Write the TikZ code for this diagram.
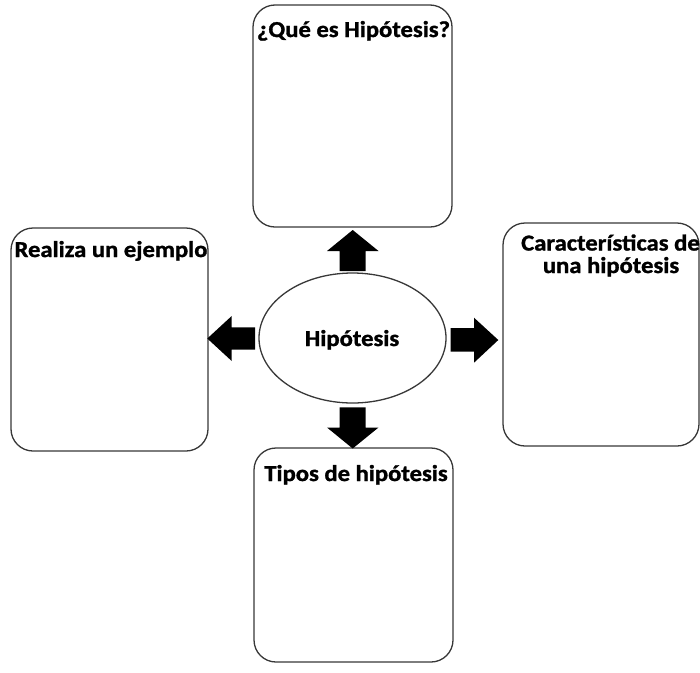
\documentclass[tikz,border=0pt]{standalone}
\usepackage{fontspec}
\setmainfont{Carlito}[BoldFeatures={FakeBold=1.2}]
\usepackage{graphicx}
\usetikzlibrary{shapes.geometric}
\newcommand\sx[1]{\scalebox{1.08}[1]{#1}}
\tikzset{
  box/.style={draw=black!78, line width=1.3pt, rounded corners=22pt, rectangle, inner sep=0pt},
  oval/.style={draw=black!78, line width=1.3pt, ellipse, inner sep=0pt, minimum width=187pt, minimum height=130pt},
  lbl/.style={anchor=base, inner sep=0pt, font=\fontsize{22.8}{22.8}\selectfont\bfseries, text=black},
  blockarrow/.style={fill=black, draw=none}
}
\begin{document}
\begin{tikzpicture}[x=1pt, y=-1pt]
\useasboundingbox (0,0) rectangle (700,672);
\fill[white] (0,0) rectangle (700,672);
% boxes
\node[box, minimum width=199pt, minimum height=222pt] (top) at (352.5,116) {};
\node[box, minimum width=197pt, minimum height=223pt] (left) at (109.5,339.5) {};
\node[box, minimum width=196pt, minimum height=223pt] (right) at (601,334.5) {};
\node[box, minimum width=199pt, minimum height=214pt] (bottom) at (353.5,555) {};
\node[oval] (ell) at (352.5,338) {};
% labels
\node[lbl] (ttop) at (353.5,37) {\sx{¿Qué es Hipótesis?}};
\node[lbl] (tleft) at (111,257) {\sx{Realiza un ejemplo}};
\node[lbl] (tright1) at (610.5,250.5) {\sx{Características de}};
\node[lbl] (tright2) at (611,273) {\sx{una hipótesis}};
\node[lbl] (tbottom) at (356,481) {\sx{Tipos de hipótesis}};
\node[lbl] (tell) at (352,346) {\sx{Hipótesis}};
% block arrows
\fill[blockarrow] (352.7,230) -- (378.5,251) -- (365.7,251) -- (365.7,271) -- (339.7,271) -- (339.7,251) -- (327,251) -- cycle;
\fill[blockarrow] (352.7,448.5) -- (378.5,427.5) -- (365.7,427.5) -- (365.7,407.3) -- (339.7,407.3) -- (339.7,427.5) -- (327,427.5) -- cycle;
\fill[blockarrow] (207.3,338.5) -- (231.7,316) -- (231.7,327.3) -- (255,327.3) -- (255,349.5) -- (231.7,349.5) -- (231.7,361) -- cycle;
\fill[blockarrow] (498.3,340) -- (474,317.7) -- (474,328) -- (450.7,328) -- (450.7,351.5) -- (474,351.5) -- (474,362.7) -- cycle;
\end{tikzpicture}
\end{document}
